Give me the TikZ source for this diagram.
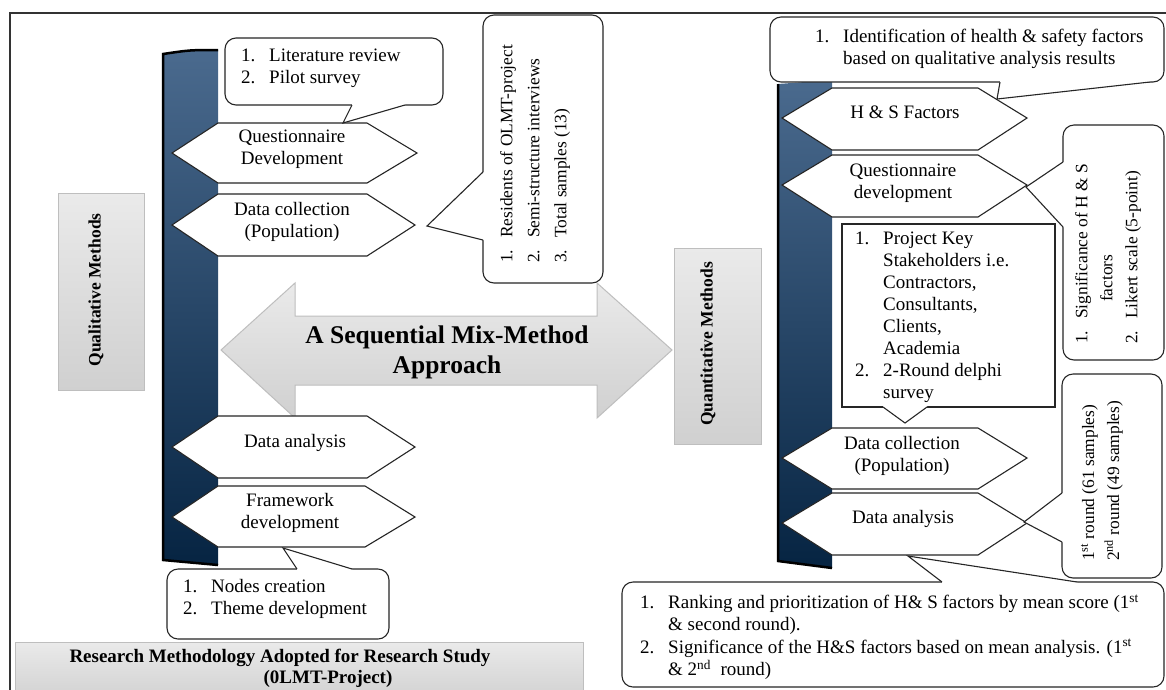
\documentclass[tikz,border=0pt]{standalone}
\usepackage{fontspec}
\setmainfont{Liberation Serif}
\definecolor{bartop}{RGB}{74,106,142}
\definecolor{barbot}{RGB}{6,36,66}
\definecolor{gtop}{RGB}{234,234,234}
\definecolor{gbot}{RGB}{208,208,208}
\definecolor{gline}{RGB}{190,190,190}
\newcommand\nm[1]{\makebox[28pt][l]{#1}}
\newcommand\rnm[1]{\makebox[25pt][l]{#1}}
\newcommand\callptr[5]{\fill[white] #4 -- #1 -- #2 -- #3 -- #5 -- cycle; \draw[bord] #1 -- #2 -- #3;}
\begin{document}
\begin{tikzpicture}[x=1pt,y=-1pt,
  bord/.style={draw=black!85, line width=1.1pt},
  hexa/.style={bord, fill=white, line join=miter},
  cbox/.style={bord, fill=white, rounded corners=11pt},
  txt/.style={inner sep=0pt, font=\fontsize{19}{22}\selectfont, align=left},
  ctxt/.style={inner sep=0pt, font=\fontsize{19}{22}\selectfont, align=center},
  rtxt/.style={inner sep=0pt, rotate=90, font=\fontsize{17.4}{27}\selectfont, align=left},
  rtxtb/.style={inner sep=0pt, rotate=90, font=\fontsize{17.4}{25}\selectfont, align=left},
  btxt/.style={inner sep=0pt, font=\bfseries\fontsize{19}{22}\selectfont},
  rbtxt/.style={inner sep=0pt, rotate=90, font=\bfseries\fontsize{17.5}{20}\selectfont},
  graybox/.style={draw=gline, line width=1pt, top color=gtop, bottom color=gbot, inner sep=0pt},
  arrowfill/.style={draw=gline, line width=1pt, top color=gtop, bottom color=gbot}
]
\useasboundingbox (0,0) rectangle (1166,689);
\fill[white] (0,0) rectangle (1166,689);
% outer frame
\draw[line width=1.2pt, black!80] (10,13) rectangle (1185,705);

% left bar
\shade[top color=bartop,bottom color=barbot] (163,54) -- (163,560) .. controls (190,563) .. (218,565) -- (218,50) .. controls (190,50) .. (163,54) -- cycle;
\draw[line width=2.5pt] (218,50) .. controls (190,50) .. (163,54) -- (163,560) .. controls (190,563) .. (218,565);
% right bar
\shade[top color=bartop,bottom color=barbot] (778,84) -- (778,561) .. controls (805,564) .. (832,568) -- (832,80) -- cycle;
\draw[line width=2.5pt] (778,84) -- (778,561) .. controls (805,564) .. (832,568);

% gray boxes
\node[graybox, minimum width=86pt, minimum height=197pt] (qualbox) at (101,291.5) {};
\node[rbtxt] (qualtxt) at (96,290) {Qualitative Methods};
\node[graybox, minimum width=87pt, minimum height=196pt] (quantbox) at (717.5,346) {};
\node[rbtxt] (quanttxt) at (708,344) {Quantitative Methods};
\node[graybox, minimum width=568pt, minimum height=60pt] (titlebox) at (299,672) {};
\node[btxt] (title1) at (280,658) {Research Methodology Adopted for Research Study};
\node[btxt] (title2) at (328,679) {(0LMT-Project)};

% double arrow
\path[arrowfill] (221,350) -- (295,283) -- (295,316) -- (597,316) -- (597,283) -- (672,350) -- (597,418) -- (597,385) -- (295,385) -- (295,418) -- cycle;
\node[inner sep=0pt, font=\bfseries\fontsize{25.5}{30}\selectfont, align=center] (mix) at (447,352) {A Sequential Mix-Method\\Approach};

% left hexagons
\draw[hexa] (172,153) -- (218,123) -- (367,123) -- (417,153) -- (367,183) -- (218,183) -- cycle;
\draw[hexa] (172,225) -- (218,194) -- (367,194) -- (415,225) -- (367,256) -- (218,256) -- cycle;
\draw[hexa] (172,447) -- (218,416) -- (367,416) -- (415,447) -- (367,478) -- (218,478) -- cycle;
\draw[hexa] (172,517) -- (218,486) -- (365,486) -- (415,517) -- (365,547) -- (218,547) -- cycle;
\node[ctxt] (qd1) at (292,149) {Questionnaire\\Development};
\node[ctxt] (dc1) at (292,222) {Data collection\\(Population)};
\node[ctxt] (da1) at (295,443) {Data analysis};
\node[ctxt] (fd1) at (290,513) {Framework\\development};

% right hexagons
\draw[hexa] (782,118) -- (832,88) -- (978,88) -- (1027,118) -- (978,150) -- (832,150) -- cycle;
\draw[hexa] (782,185) -- (832,155) -- (978,155) -- (1027,185) -- (978,217) -- (832,217) -- cycle;
\draw[hexa] (782,458) -- (832,428) -- (978,428) -- (1027,458) -- (978,489) -- (832,489) -- cycle;
\draw[hexa] (782,523) -- (832,493) -- (978,493) -- (1027,523) -- (978,555) -- (832,555) -- cycle;
\node[ctxt] (hs) at (905,112) {H \& S Factors};
\node[ctxt] (qd2) at (903,183) {Questionnaire\\development};
\node[ctxt] (dc2) at (902,456) {Data collection\\(Population)};
\node[ctxt] (da2) at (903,519) {Data analysis};

% callouts left
\draw[cbox] (225,38) rectangle (443,105);
\callptr{(352,105)}{(343,123)}{(405,105)}{(352,101)}{(405,101)}
\node[txt, anchor=west] (littxt) at (241,68) {\nm{1.}Literature review\\\nm{2.}Pilot survey};

\draw[cbox] (167,569) rectangle (389,639);
\callptr{(297,569)}{(283,548)}{(352,569)}{(297,573)}{(352,573)}
\node[txt, anchor=west] (nodetxt) at (183,599) {\nm{1.}Nodes creation\\\nm{2.}Theme development};

% center callout
\draw[cbox] (483,15) rectangle (603,283);
\callptr{(483,172)}{(427,226)}{(483,240)}{(487,172)}{(487,240)}
\node[rtxt, anchor=west] (restxt) at (535,263) {\rnm{1.}Residents of OLMT-project\\\rnm{2.}Semi-structure interviews\\\rnm{3.}Total samples (13)};

% right callouts
\draw[cbox] (770,17) rectangle (1164,82);
\callptr{(1000,82)}{(997,99)}{(1150,82)}{(1000,78)}{(1150,78)}
\node[txt, anchor=west] (idtxt) at (815,49) {\nm{1.}Identification of health \& safety factors\\\hspace*{28pt}based on qualitative analysis results};

\draw[cbox] (1063,125) rectangle (1164,360);
\callptr{(1063,162)}{(1026,187)}{(1063,227)}{(1067,162)}{(1067,227)}
\node[rtxtb, anchor=west] (sigtxt) at (1108,344) {\rnm{1.}Significance of H \& S\\\hspace*{42pt}factors\\\rnm{2.}Likert scale (5-point)};

\draw[bord, fill=white] (842,224) rectangle (1055,407);
\callptr{(883,407)}{(905,423)}{(927,407)}{(883,403)}{(927,403)}
\node[txt, anchor=west] (pktxt) at (855,317) {\nm{1.}Project Key\\\hspace*{28pt}Stakeholders i.e.\\\hspace*{28pt}Contractors,\\\hspace*{28pt}Consultants,\\\hspace*{28pt}Clients,\\\hspace*{28pt}Academia\\\nm{2.}2-Round delphi\\\hspace*{28pt}survey};

\draw[cbox] (1062,374) rectangle (1162,578);
\callptr{(1062,493)}{(1024,522)}{(1062,542)}{(1066,493)}{(1066,542)}
\node[rtxtb, anchor=west] (roundtxt) at (1102,561) {1\textsuperscript{st} round (61 samples)\\2\textsuperscript{nd} round (49 samples)};

\draw[cbox] (622,582) rectangle (1164,687);
\callptr{(942,582)}{(908,556)}{(1077,582)}{(942,586)}{(1077,586)}
\node[txt, anchor=west, font=\fontsize{19}{22.4}\selectfont] (ranktxt) at (640,637) {\nm{1.}Ranking and prioritization of H\& S factors by mean score (1\textsuperscript{st}\\\hspace*{28pt}\& second round).\\\nm{2.}Significance of the H\&S factors based on mean analysis. (1\textsuperscript{st}\\\hspace*{28pt}\& 2\textsuperscript{nd}\ \ round)};
\end{tikzpicture}
\end{document}
